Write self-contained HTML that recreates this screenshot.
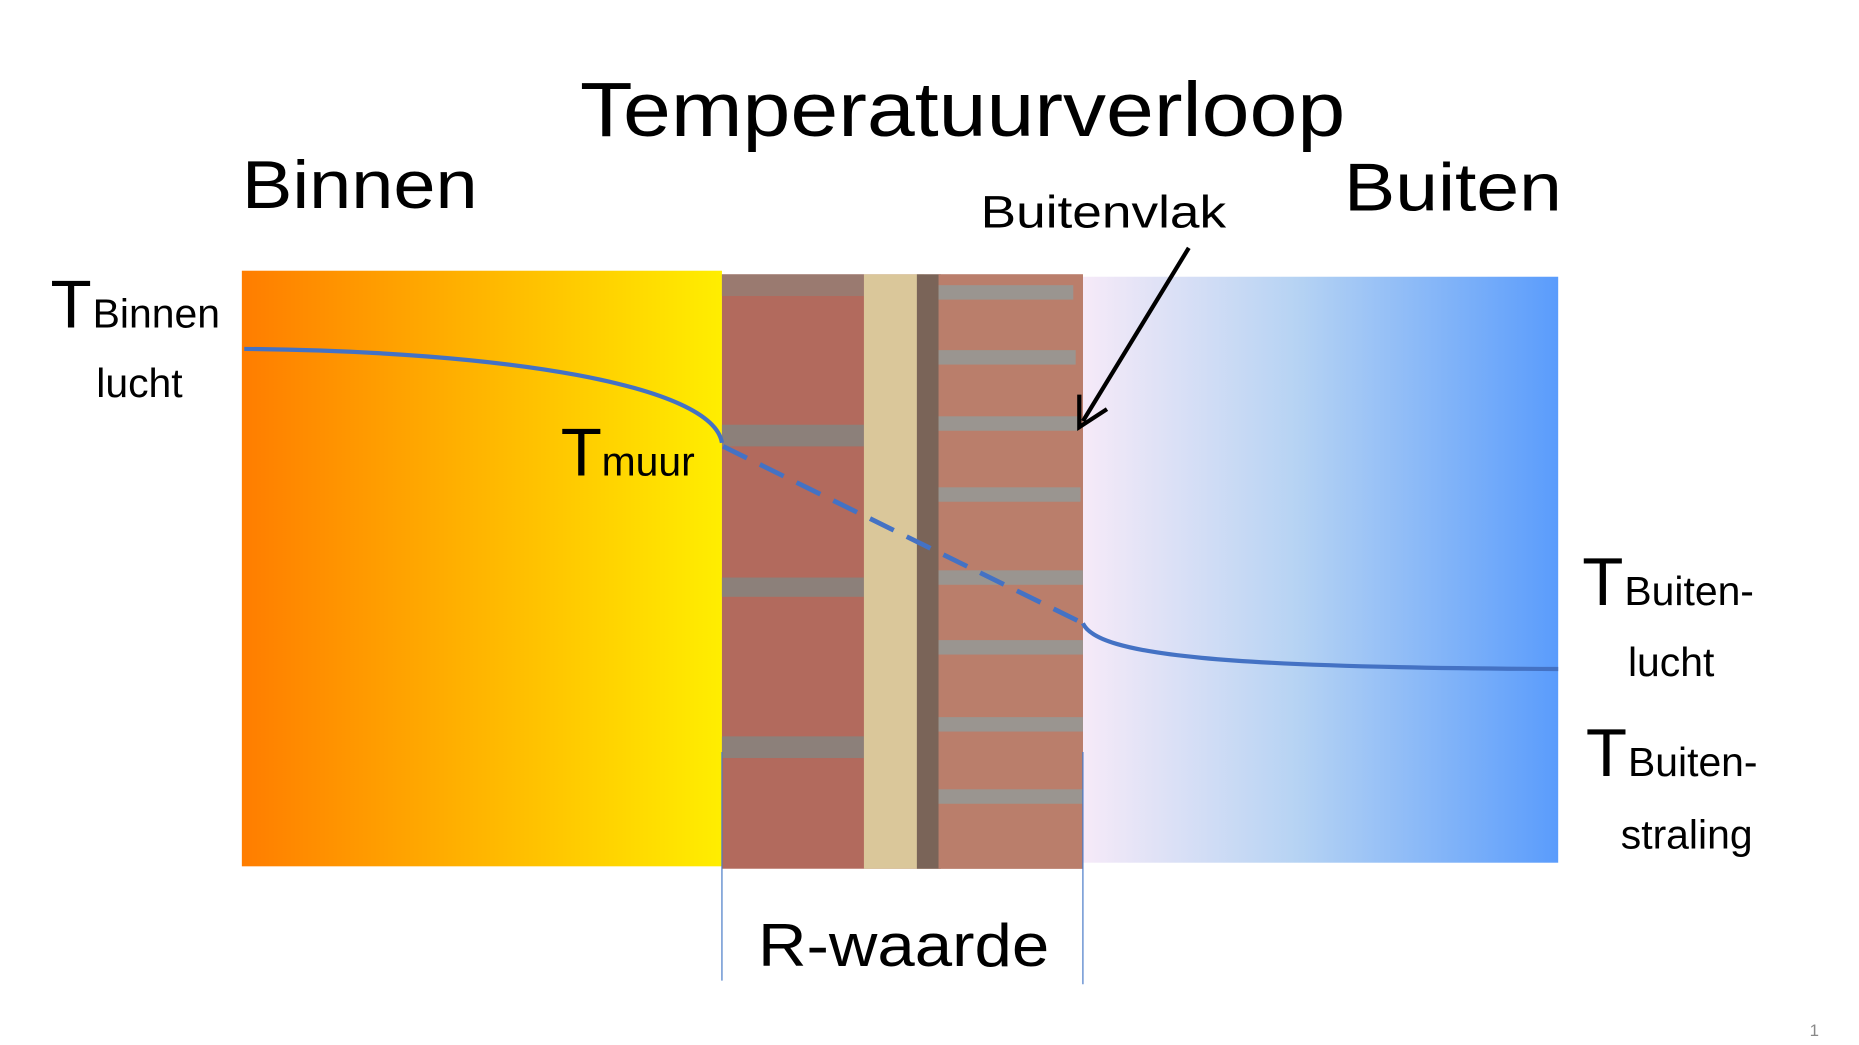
<!DOCTYPE html>
<html><head><style>
html,body{margin:0;padding:0;background:#fff;}
svg{display:block;}
text{font-family:"Liberation Sans",sans-serif;fill:#000;}
</style></head><body>
<svg width="1859" height="1045" viewBox="0 0 1545 868.5" preserveAspectRatio="none">
<defs>
<linearGradient id="og" x1="0" x2="1"><stop offset="0" stop-color="#ff7d00"/><stop offset="1" stop-color="#ffee00"/></linearGradient>
<linearGradient id="bg" x1="0" x2="1"><stop offset="0" stop-color="#f6eaf8"/><stop offset="0.45" stop-color="#b6d3f3"/><stop offset="1" stop-color="#5a9cfc"/></linearGradient>
</defs>
<text x="800" y="113" font-size="64" text-anchor="middle" textLength="636" lengthAdjust="spacingAndGlyphs">Temperatuurverloop</text>
<text x="201" y="173" font-size="56" textLength="196" lengthAdjust="spacingAndGlyphs">Binnen</text>
<text x="1117" y="175" font-size="56" textLength="181" lengthAdjust="spacingAndGlyphs">Buiten</text>
<text x="815" y="189" font-size="38" textLength="204" lengthAdjust="spacingAndGlyphs">Buitenvlak</text>
<rect x="201" y="225" width="399" height="495" fill="url(#og)"/>
<rect x="900" y="230" width="395" height="487" fill="url(#bg)"/>
<!-- brick wall -->
<rect x="600" y="228" width="300" height="494" fill="#b26a5d"/>
<rect x="600" y="353" width="118" height="18" fill="#8c807a"/>
<rect x="600" y="480" width="118" height="16" fill="#8c807a"/>
<rect x="600" y="612" width="118" height="18" fill="#8c807a"/>
<rect x="600" y="228" width="118" height="18" fill="#9a7a70"/>
<rect x="718" y="228" width="50" height="494" fill="#dac79a"/>
<rect x="762" y="228" width="20" height="494" fill="#7a6458"/>
<rect x="780" y="228" width="120" height="494" fill="#ba7e6b"/>
<g fill="#9a9590">
<rect x="780" y="237" width="112" height="12"/>
<rect x="780" y="291" width="114" height="12"/>
<rect x="780" y="346" width="116" height="12"/>
<rect x="780" y="405" width="118" height="12"/>
<rect x="780" y="474" width="120" height="12"/>
<rect x="780" y="532" width="120" height="12"/>
<rect x="780" y="596" width="120" height="12"/>
<rect x="780" y="656" width="120" height="12"/>
</g>
<line x1="600" y1="625" x2="600" y2="815" stroke="#4a7bc8" stroke-width="1"/>
<line x1="900" y1="625" x2="900" y2="818" stroke="#4a7bc8" stroke-width="1"/>
<!-- curves -->
<path d="M203,290 C420,292 592,320 600,368" fill="none" stroke="#4472c4" stroke-width="3.5"/>
<line x1="601" y1="371" x2="900" y2="518" stroke="#4472c4" stroke-width="4" stroke-dasharray="22,12"/>
<path d="M900,518 C912,545 1020,555 1295,556" fill="none" stroke="#4472c4" stroke-width="3.5"/>
<!-- arrow -->
<line x1="988" y1="206" x2="900" y2="350" stroke="#000" stroke-width="3.5"/>
<polyline points="897,328 897,355 920,340" fill="none" stroke="#000" stroke-width="3.5"/>
<!-- labels -->
<text x="42" y="272" font-size="56">T</text><text x="77" y="272" font-size="34">Binnen</text>
<text x="80" y="330" font-size="34">lucht</text>
<text x="466" y="395" font-size="56">T</text><text x="500" y="395" font-size="34">muur</text>
<text x="1315" y="503" font-size="56">T</text><text x="1350" y="503" font-size="34">Buiten-</text>
<text x="1353" y="562" font-size="34">lucht</text>
<text x="1318" y="645" font-size="56">T</text><text x="1353" y="645" font-size="34">Buiten-</text>
<text x="1347" y="705" font-size="34">straling</text>
<text x="630" y="803" font-size="50" textLength="242" lengthAdjust="spacingAndGlyphs">R-waarde</text>
<text x="1504" y="861" font-size="14" fill="#888" style="fill:#888">1</text>
</svg>
</body></html>
